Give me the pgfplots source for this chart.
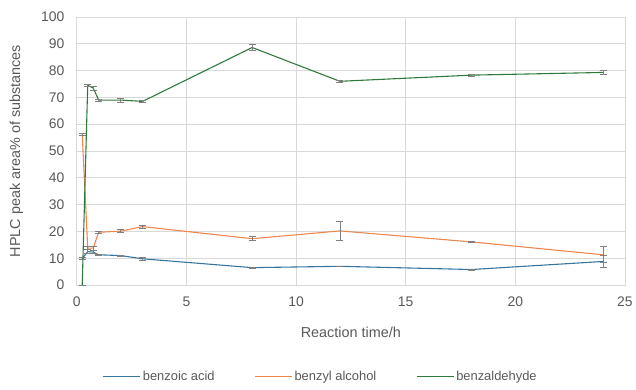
\documentclass[border=0pt]{standalone}
\usepackage{pgfplots}
\pgfplotsset{compat=1.18}
\usepackage{pgfplotstable}
\usepackage{fontspec}
\setmainfont{Liberation Sans}

\definecolor{acid}{HTML}{3575A0}
\definecolor{alcohol}{HTML}{EE8650}
\definecolor{aldehyde}{HTML}{2F7A3A}
\definecolor{txt}{HTML}{595959}
\definecolor{gridc}{HTML}{D9D9D9}

% time/h, peak area %, error
\pgfplotstableread{
t    y     e
0.25 9.9   0.3
0.5  12.5  0.8
0.75 12.3  0.5
1    11.3  0.3
2    11.0  0.2
3    9.8   0.5
8    6.5   0.2
12   7.0   0.0
18   5.8   0.2
24   8.8   2.2
}\acid
\pgfplotstableread{
t    y     e
0.25 56.2  0.3
0.5  13.8  0.5
0.75 13.8  0.8
1    19.7  0.3
2    20.1  0.6
3    21.8  0.6
8    17.3  0.8
12   20.2  3.4
18   16.1  0.2
24   11.3  3.0
}\alcohol
\pgfplotstableread{
t    y     e
0.25 0.0   0.0
0.5  74.5  0.4
0.75 73.5  0.8
1    69.0  0.4
2    69.0  0.7
3    68.5  0.3
8    88.6  1.0
12   76.0  0.3
18   78.3  0.4
24   79.3  0.8
}\aldehyde

\begin{document}
\begin{tikzpicture}[x=1bp,y=1bp]
\begin{axis}[
  scale only axis,
  width=550bp, height=269bp,
  xmin=0, xmax=25, ymin=0, ymax=100,
  xtick={0,5,...,25}, ytick={0,10,...,100},
  grid=major,
  major grid style={gridc, line width=0.8pt},
  axis line style={gridc, line width=0.8pt},
  tick style={draw=none},
  ticklabel style={font=\fontsize{14}{16}\selectfont, text=txt},
  xticklabel style={yshift=-8bp},
  yticklabel style={xshift=-9bp},
  /pgf/number format/assume math mode=true,
  xlabel={Reaction time/h},
  ylabel={HPLC peak area\% of substances},
  label style={font=\fontsize{14.5}{16}\selectfont, text=txt},
  xlabel style={at={(axis description cs:0.5,-0.175)}, anchor=center},
  ylabel style={at={(axis description cs:-0.11,0.5)}, anchor=center},
  legend columns=3,
  legend style={draw=none, fill=none, at={(0.445,-0.342)}, anchor=center,
    font=\fontsize{13}{15}\selectfont, text=txt,
    /tikz/every even column/.append style={column sep=38bp}},
  legend image code/.code={\draw[#1, line width=1.2pt] (0bp,0bp) -- (37bp,0bp);},
  every axis plot/.append style={line width=1.1pt},
  error bars/y dir=both, error bars/y explicit,
  error bars/error mark options={rotate=90, mark size=3.5bp, line width=0.7pt, draw=gray},
  error bars/error bar style={line width=0.7pt, draw=gray},
]
\addplot[acid, no marks] table[x=t, y=y, y error=e] {\acid};
\addlegendentry{benzoic acid}
\addplot[alcohol, no marks] table[x=t, y=y, y error=e] {\alcohol};
\addlegendentry{benzyl alcohol}
\addplot[aldehyde, no marks] table[x=t, y=y, y error=e] {\aldehyde};
\addlegendentry{benzaldehyde}
\end{axis}
\path[use as bounding box] (-77bp,-105bp) rectangle (559bp,286bp);
\end{tikzpicture}
\end{document}
